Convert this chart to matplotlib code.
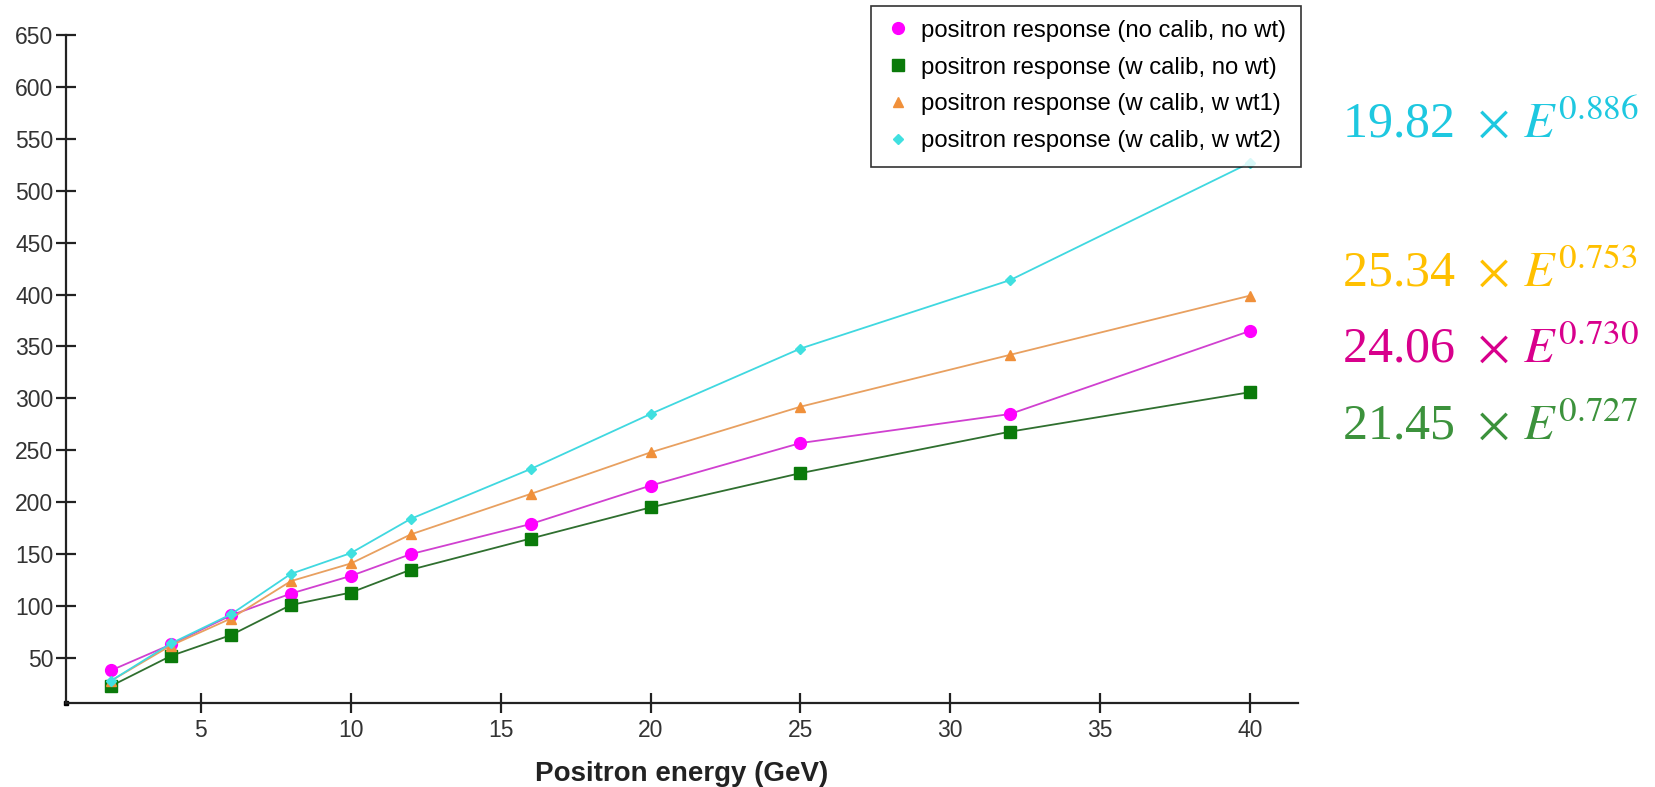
import matplotlib.pyplot as plt
from matplotlib.lines import Line2D

plt.rcParams['font.family'] = ['Liberation Sans', 'DejaVu Sans']
plt.rcParams['mathtext.fontset'] = 'stix'

# positron energy (GeV)
energy = [2, 4, 6, 8, 10, 12, 16, 20, 25, 32, 40]

# responses
resp_nocalib_nowt = [38, 63, 91, 112, 129, 150, 179, 216, 257, 285, 365]
resp_calib_nowt = [23, 52, 72, 101, 113, 135, 165, 195, 228, 268, 306]
resp_calib_wt1 = [28, 62, 88, 124, 141, 169, 208, 248, 292, 342, 399]
resp_calib_wt2 = [28, 64, 92, 131, 151, 184, 232, 285, 348, 414, 527]

labels = ["positron response (no calib, no wt)",
          "positron response (w calib, no wt)",
          "positron response (w calib, w wt1)",
          "positron response (w calib, w wt2)"]

x_ticks = [5, 10, 15, 20, 25, 30, 35, 40]
y_ticks = [50, 100, 150, 200, 250, 300, 350, 400, 450, 500, 550, 600, 650]

# power-law fit annotations
fit_coef = ["19.82", "25.34", "24.06", "21.45"]
fit_exp = ["0.886", "0.753", "0.730", "0.727"]

fig = plt.figure(figsize=(16.55, 7.87), dpi=100)
ax = fig.add_axes([0.0399, 0.1067, 0.7444, 0.8488])

series = [
    (resp_nocalib_nowt, '#ff00ff', '#d040d0', 'o', 8.5),
    (resp_calib_nowt, '#0a7a0a', '#2f6f2f', 's', 8.0),
    (resp_calib_wt1, '#f0903a', '#e8a060', '^', 7.0),
    (resp_calib_wt2, '#40e0e0', '#40d8e0', 'D', 5.5),
]
handles = []
for (vals, mcol, lcol, mk, ms), lab in zip(series, labels):
    ax.plot(energy, vals, color=lcol, lw=1.3)
    ax.plot(energy, vals, linestyle='none', marker=mk, ms=ms, color=mcol)
    handles.append(Line2D([], [], linestyle='none', marker=mk, ms=ms, color=mcol, label=lab))

ax.set_xlim(0.5, 41.6)
ax.set_ylim(6.6, 650)
ax.set_xticks(x_ticks)
ax.set_yticks(y_ticks)
for s in ['top', 'right']:
    ax.spines[s].set_visible(False)
for s in ['left', 'bottom']:
    ax.spines[s].set_linewidth(1.6)
    ax.spines[s].set_color('#222222')
ax.tick_params(direction='inout', length=14.5, width=1.6, colors='#222222',
               labelsize=16.5, pad=4)
ax.tick_params(axis='y', pad=2, labelcolor='#333333')
ax.tick_params(axis='x', labelcolor='#333333')
ax.plot([0], [0], transform=ax.transAxes, marker='s', ms=3, color='black', clip_on=False)
ax.set_xlabel("Positron energy (GeV)", fontsize=20, fontweight='bold', labelpad=14,
              color='#222222')

fig.legend(handles=handles, loc='upper right', bbox_to_anchor=(0.786, 0.993),
           fontsize=17.2, frameon=True, fancybox=False, edgecolor='black',
           handletextpad=0.5, borderpad=0.6, labelspacing=0.62, handlelength=1.0,
           borderaxespad=0.0)
fig.legends[0].get_frame().set_linewidth(1.2)

fit_colors = ['#1ec8e0', '#ffc000', '#d8008c', '#3c923c']
fit_y = [0.842, 0.652, 0.556, 0.458]
for c, e, col, y in zip(fit_coef, fit_exp, fit_colors, fit_y):
    fig.text(0.811, y, c + r"$\;\,\times\, E^{" + e + "}$", color=col,
             fontsize=36, family='Liberation Serif', va='center', ha='left')

fig.savefig("out.png", dpi=100)
